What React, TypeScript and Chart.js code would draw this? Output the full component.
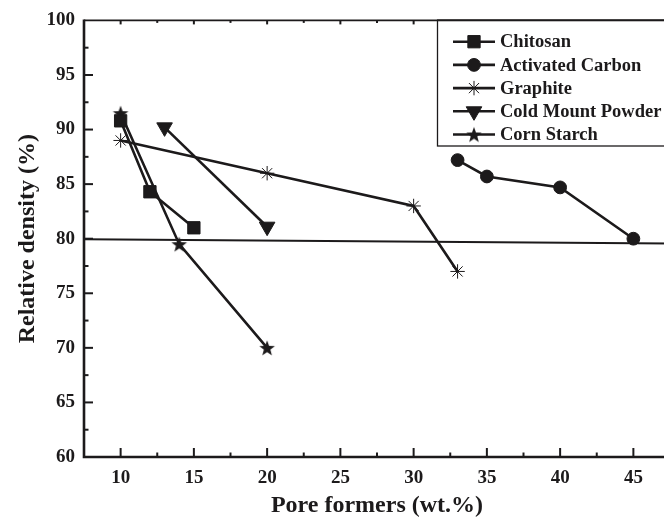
import React, { useEffect, useRef } from 'react';
import { Chart, registerables } from 'chart.js';
import { drawPoint } from 'chart.js/helpers';

Chart.register(...registerables);

// ---------- data ----------
const seriesNames = ['Chitosan', 'Activated Carbon', 'Graphite', 'Cold Mount Powder', 'Corn Starch'];

const chitosanX = [10, 12, 15];
const chitosanY = [90.8, 84.3, 81.0];

const carbonX = [33, 35, 40, 45];
const carbonY = [87.2, 85.7, 84.7, 80.0];

const graphiteX = [10, 20, 30, 33];
const graphiteY = [89.0, 86.0, 83.0, 77.0];

const coldMountX = [13, 20];
const coldMountY = [90.2, 81.1];

const cornStarchX = [10, 14, 20];
const cornStarchY = [91.5, 79.5, 70.0];

const refLineX = [7.5, 47.5];
const refLineY = [79.95, 79.55];

const xTickValues = [10, 15, 20, 25, 30, 35, 40, 45];
const yTickValues = [60, 65, 70, 75, 80, 85, 90, 95, 100];

const X_MIN = 7.5;
const X_MAX = 47.5;
const Y_MIN = 60;
const Y_MAX = 100;

const INK = '#1c1a1b';
const FONT = '"Liberation Serif", "Times New Roman", serif';

function pts(xs: number[], ys: number[]) {
  return xs.map((x, i) => ({ x, y: ys[i] }));
}

function makeStarImage(): HTMLCanvasElement {
  const c = document.createElement('canvas');
  const s = 18;
  c.width = s;
  c.height = s;
  const g = c.getContext('2d')!;
  const cx = s / 2;
  const cy = s / 2 + 0.8;
  const R = 8.2;
  const r = 3.4;
  g.beginPath();
  for (let i = 0; i < 10; i++) {
    const rad = -Math.PI / 2 + (i * Math.PI) / 5;
    const rr = i % 2 === 0 ? R : r;
    const px = cx + Math.cos(rad) * rr;
    const py = cy + Math.sin(rad) * rr;
    if (i === 0) g.moveTo(px, py);
    else g.lineTo(px, py);
  }
  g.closePath();
  g.fillStyle = INK;
  g.fill();
  return c;
}

export default function App() {
  const canvasRef = useRef<HTMLCanvasElement | null>(null);

  useEffect(() => {
    const canvas = canvasRef.current;
    if (!canvas) return;
    const starImg = makeStarImage();

    const styles: any[] = [
      { pointStyle: 'rect', radius: 8.7, rotation: 0, borderWidth: 1 },
      { pointStyle: 'circle', radius: 6.4, rotation: 0, borderWidth: 1 },
      { pointStyle: 'star', radius: 7.2, rotation: 0, borderWidth: 1 },
      { pointStyle: 'triangle', radius: 9, rotation: 180, borderWidth: 1 },
      { pointStyle: starImg, radius: 8, rotation: 0, borderWidth: 0 },
    ];
    const seriesData = [
      pts(chitosanX, chitosanY),
      pts(carbonX, carbonY),
      pts(graphiteX, graphiteY),
      pts(coldMountX, coldMountY),
      pts(cornStarchX, cornStarchY),
    ];

    const datasets: any[] = seriesNames.map((name, i) => ({
      label: name,
      data: seriesData[i],
      showLine: true,
      borderColor: INK,
      backgroundColor: INK,
      borderWidth: 2.6,
      pointStyle: styles[i].pointStyle,
      pointRadius: styles[i].radius,
      pointRotation: styles[i].rotation,
      pointBorderWidth: styles[i].borderWidth,
      pointBorderColor: INK,
      pointBackgroundColor: INK,
      pointHoverRadius: styles[i].radius,
    }));
    datasets.push({
      label: 'ref',
      data: pts(refLineX, refLineY),
      showLine: true,
      borderColor: INK,
      borderWidth: 2,
      pointRadius: 0,
      pointHoverRadius: 0,
    });

    const framePlugin = {
      id: 'frame',
      beforeDatasetsDraw(chart: any) {
        const { ctx, chartArea: a, scales } = chart;
        const xs = scales.x;
        const ys = scales.y;
        ctx.save();
        ctx.strokeStyle = INK;
        ctx.lineCap = 'butt';
        // axes
        ctx.lineWidth = 2.6;
        ctx.beginPath();
        ctx.moveTo(a.left, a.top - 1);
        ctx.lineTo(a.left, a.bottom);
        ctx.lineTo(a.right, a.bottom);
        ctx.stroke();
        ctx.lineWidth = 1.8;
        ctx.beginPath();
        ctx.moveTo(a.left, a.top);
        ctx.lineTo(a.right, a.top);
        ctx.lineTo(a.right, a.bottom);
        ctx.stroke();
        // ticks
        ctx.lineWidth = 2;
        for (let v = X_MIN + 2.5; v < X_MAX; v += 2.5) {
          const px = xs.getPixelForValue(v);
          const major = Math.abs(v % 5) < 1e-6;
          const L = major ? 9 : 4.5;
          ctx.beginPath();
          ctx.moveTo(px, a.bottom);
          ctx.lineTo(px, a.bottom - L);
          ctx.stroke();
          ctx.beginPath();
          ctx.moveTo(px, a.top);
          ctx.lineTo(px, a.top + (major ? 4 : 2.5));
          ctx.stroke();
        }
        for (let v = Y_MIN + 2.5; v < Y_MAX; v += 2.5) {
          const py = ys.getPixelForValue(v);
          const major = Math.abs(v % 5) < 1e-6;
          const L = major ? 9 : 4.5;
          ctx.beginPath();
          ctx.moveTo(a.left, py);
          ctx.lineTo(a.left + L, py);
          ctx.stroke();
        }
        ctx.restore();
      },
      afterDraw(chart: any) {
        const { ctx, chartArea: a } = chart;
        ctx.save();
        const boxLeft = 437;
        const boxTop = a.top;
        const boxBottom = 146;
        ctx.fillStyle = '#ffffff';
        ctx.fillRect(boxLeft, boxTop, a.right - boxLeft, boxBottom - boxTop);
        ctx.strokeStyle = INK;
        ctx.lineWidth = 1.3;
        ctx.strokeRect(boxLeft + 0.5, boxTop, a.right - boxLeft, boxBottom - boxTop);
        ctx.lineWidth = 1.8;
        ctx.beginPath();
        ctx.moveTo(boxLeft, a.top);
        ctx.lineTo(a.right, a.top);
        ctx.stroke();
        ctx.font = `bold 18.5px ${FONT}`;
        ctx.textBaseline = 'middle';
        ctx.textAlign = 'left';
        seriesNames.forEach((name, i) => {
          const y = 41.7 + i * 23.2;
          ctx.strokeStyle = INK;
          ctx.lineWidth = 2.6;
          ctx.beginPath();
          ctx.moveTo(453, y);
          ctx.lineTo(495, y);
          ctx.stroke();
          ctx.fillStyle = INK;
          ctx.strokeStyle = INK;
          ctx.lineWidth = styles[i].borderWidth;
          drawPoint(ctx, {
            pointStyle: styles[i].pointStyle,
            radius: styles[i].radius,
            rotation: styles[i].rotation,
            borderWidth: styles[i].borderWidth,
          } as any, 474, y);
          ctx.fillStyle = INK;
          ctx.fillText(name, 500, y + 1);
        });
        ctx.restore();
      },
    };

    const chart = new Chart(canvas, {
      type: 'scatter',
      data: { datasets },
      plugins: [framePlugin],
      options: {
        animation: false,
        responsive: false,
        maintainAspectRatio: false,
        events: [],
        layout: { padding: { left: 0, top: 20, right: 30, bottom: 0 } },
        plugins: {
          legend: { display: false },
          tooltip: { enabled: false },
        },
        scales: {
          x: {
            type: 'linear',
            min: X_MIN,
            max: X_MAX,
            grid: { display: false, drawTicks: false },
            border: { display: false },
            afterFit: (s: any) => {
              s.height = 63;
            },
            afterBuildTicks: (s: any) => {
              s.ticks = xTickValues.map((v) => ({ value: v }));
            },
            ticks: {
              padding: 10,
              color: INK,
              font: { family: FONT, size: 19, weight: 'bold' },
            },
            title: {
              display: true,
              text: 'Pore formers (wt.%)',
              color: INK,
              font: { family: FONT, size: 24, weight: 'bold', lineHeight: 1.2 },
              padding: { top: 0, bottom: 0 },
            },
          },
          y: {
            type: 'linear',
            min: Y_MIN,
            max: Y_MAX,
            grid: { display: false, drawTicks: false },
            border: { display: false },
            afterFit: (s: any) => {
              s.width = 84;
            },
            afterBuildTicks: (s: any) => {
              s.ticks = yTickValues.map((v) => ({ value: v }));
            },
            ticks: {
              padding: 9,
              color: INK,
              font: { family: FONT, size: 19, weight: 'bold' },
            },
            title: {
              display: true,
              text: 'Relative density (%)',
              color: INK,
              font: { family: FONT, size: 24, weight: 'bold', lineHeight: 1.2 },
              padding: { top: 13, bottom: 0 },
            },
          },
        },
      } as any,
    });

    return () => {
      chart.destroy();
    };
  }, []);

  return (
    <div
      style={{
        position: 'absolute',
        left: 0,
        top: 0,
        width: 664,
        height: 520,
        overflow: 'hidden',
        background: '#ffffff',
      }}
    >
      <canvas ref={canvasRef} width={700} height={520} style={{ display: 'block', width: 700, height: 520 }} />
    </div>
  );
}
